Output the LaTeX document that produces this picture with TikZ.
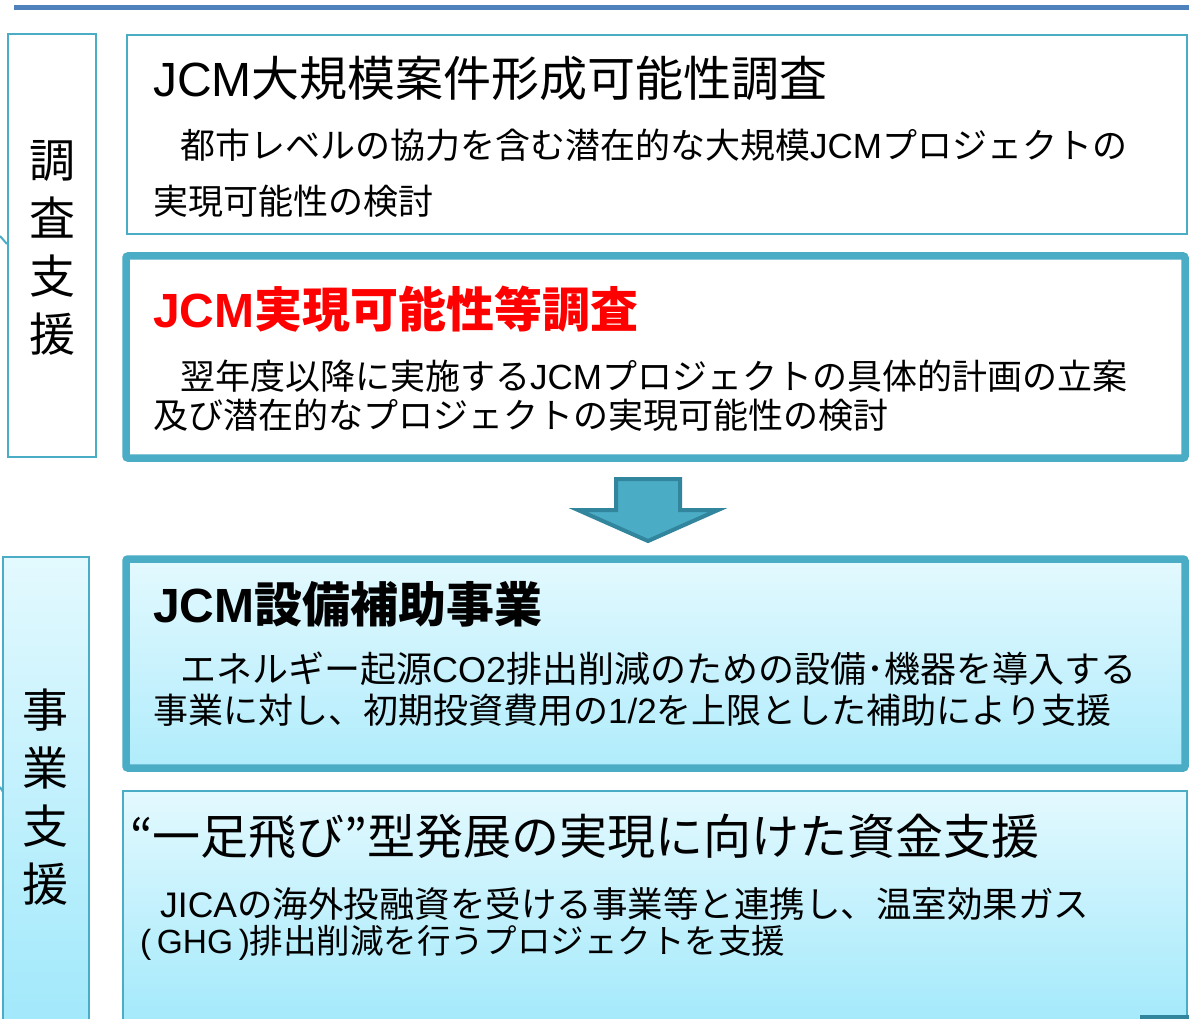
\documentclass[tikz,border=0pt]{standalone}
\usepackage{fontspec}
\setmainfont{Noto Sans CJK JP}
\newfontfamily\lat{Liberation Sans}
\definecolor{cyanb}{HTML}{4BACC6}
\definecolor{darkc}{HTML}{31859C}
\definecolor{topblue}{HTML}{4F81BD}
\definecolor{gradtop}{HTML}{E3F9FE}
\definecolor{gradbot}{HTML}{9FE8FB}
\definecolor{gradmid}{HTML}{B0ECFC}
\definecolor{redt}{HTML}{FF0000}
\begin{document}
\begin{tikzpicture}[x=1pt,y=-1pt,
  thinbox/.style={draw=cyanb, line width=2.5pt},
  thickbox/.style={draw=cyanb, line width=7.5pt, rounded corners=2pt},
  ttl/.style={anchor=west, inner sep=0pt, font=\fontsize{48}{56}\selectfont},
  body/.style={anchor=west, inner sep=0pt, font=\fontsize{35}{42}\selectfont},
  vert/.style={align=center, inner sep=0pt, font=\fontsize{46}{58}\selectfont},
  arrowshape/.style={fill=cyanb, draw=darkc, line width=4pt, line join=miter}]
\useasboundingbox (0,0) rectangle (1189,1019);
\clip (0,0) rectangle (1189,1019);
\fill[white] (0,0) rectangle (1189,1019);

% top rule
\draw[topblue, line width=5pt] (14,8) -- (1189,8);

% survey support group
\draw[thinbox, fill=white] (8,34) rectangle (96,457);
\draw[cyanb, line width=2pt] (0,236) -- (7,244);
\node[vert] (lab1) at (52,248) {調\\査\\支\\援};

\draw[thinbox, fill=white] (127,35) rectangle (1187,234);
\node[ttl] (tA) at (153,78) {{\lat JCM}大規模案件形成可能性調査};
\node[body] (a1) at (180,145) {都市レベルの協力を含む潜在的な大規模{\lat JCM}プロジェクトの};
\node[body] (a2) at (153,201) {実現可能性の検討};

\draw[thickbox, fill=white] (126,256) rectangle (1185,458);
\node[ttl, text=redt, font=\fontsize{48}{56}\selectfont\bfseries] (tB) at (153,309) {{\lat\bfseries JCM}実現可能性等調査};
\node[body] (b1) at (180,376) {翌年度以降に実施する{\lat JCM}プロジェクトの具体的計画の立案};
\node[body] (b2) at (153,415) {及び潜在的なプロジェクトの実現可能性の検討};

% arrow
\draw[arrowshape] (616,479) -- (680,479) -- (680,510) -- (718,510) -- (648,541) -- (578,510) -- (616,510) -- cycle;

% project support group
\draw[thinbox, top color=gradtop, bottom color=gradbot] (3,557) rectangle (89,1040);
\draw[cyanb, line width=2pt] (0,787) -- (3,792);
\node[vert] (lab2) at (45,797) {事\\業\\支\\援};

\draw[thickbox, top color=gradtop, bottom color=gradmid] (126,559) rectangle (1185,768);
\node[ttl, font=\fontsize{48}{56}\selectfont\bfseries] (tC) at (153,604) {{\lat\bfseries JCM}設備補助事業};
\node[body, font=\fontsize{36}{42}\selectfont] (c1) at (180,669) {エネルギー起源{\lat CO2}排出削減のための設備･機器を導入する};
\node[body] (c2) at (153,710) {事業に対し、初期投資費用の{\lat 1/2}を上限とした補助により支援};

\draw[thinbox, top color=gradtop, bottom color=gradbot] (123,791) rectangle (1187,1040);
\node[ttl] (tD) at (130,836) {“一足飛び”型発展の実現に向けた資金支援};
\node[body, font=\fontsize{35.5}{42}\selectfont] (d1) at (160,904) {{\lat JICA}の海外投融資を受ける事業等と連携し、温室効果ガス};
\node[body, font=\fontsize{33.5}{42}\selectfont] (d2) at (140,943) {{\lat(\,GHG\,)}排出削減を行うプロジェクトを支援};

\fill[darkc] (1140,1015) rectangle (1189,1019);
\end{tikzpicture}
\end{document}
